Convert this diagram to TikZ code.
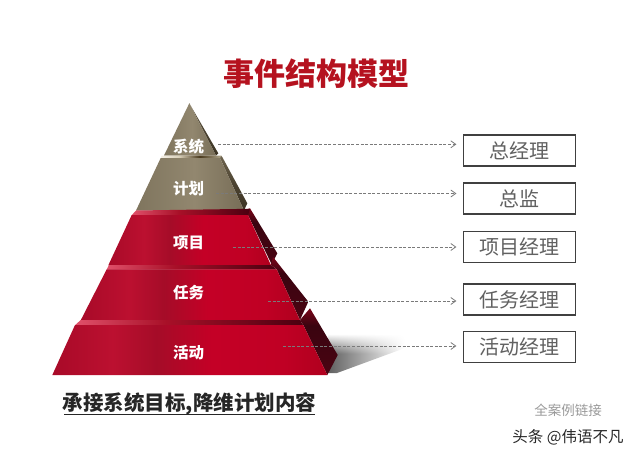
\documentclass[tikz,border=0pt]{standalone}
\usepackage{fontspec}
\newfontfamily\cjk{Noto Sans CJK SC}
\usetikzlibrary{arrows.meta,fadings}
\definecolor{titlered}{HTML}{B5121F}
\definecolor{ra}{HTML}{A80A28}\definecolor{rb}{HTML}{BC1030}\definecolor{rc}{HTML}{A50C28}
\definecolor{rd}{HTML}{C40026}\definecolor{re}{HTML}{C00024}\definecolor{rf}{HTML}{B0001E}
\definecolor{ka}{HTML}{7F755E}\definecolor{kb}{HTML}{92876F}\definecolor{kc}{HTML}{776D57}
\definecolor{sa}{HTML}{E0506A}\definecolor{sb}{HTML}{A81028}\definecolor{sc}{HTML}{4A0010}
\definecolor{ta}{HTML}{F4F0E6}\definecolor{tb}{HTML}{D9CFB8}\definecolor{tc}{HTML}{4A3A1E}\definecolor{td}{HTML}{B0A68C}
\definecolor{fa}{HTML}{7A0418}\definecolor{fb}{HTML}{3A0410}\definecolor{fc}{HTML}{4A0412}
\definecolor{ga}{HTML}{6E644E}\definecolor{gb}{HTML}{4C4331}\definecolor{gc}{HTML}{3C3424}
\definecolor{ha}{HTML}{606060}\definecolor{hb}{HTML}{B0B0B0}\definecolor{hc}{HTML}{FFFFFF}
\pgfdeclarehorizontalshading{redface}{100bp}{
  color(0bp)=(ra); color(25bp)=(ra); color(36bp)=(rb); color(44bp)=(rc);
  color(54bp)=(rd); color(67bp)=(re); color(75bp)=(rf); color(100bp)=(rf)}
\pgfdeclarehorizontalshading{khakishade}{100bp}{
  color(0bp)=(ka); color(25bp)=(ka); color(52bp)=(kb); color(75bp)=(kc); color(100bp)=(kc)}
\pgfdeclarehorizontalshading{redstrip}{100bp}{
  color(0bp)=(sa); color(25bp)=(sa); color(45bp)=(sb); color(75bp)=(sc); color(100bp)=(sc)}
\pgfdeclarehorizontalshading{khakistrip}{100bp}{
  color(0bp)=(ta); color(25bp)=(ta); color(40bp)=(tb); color(57bp)=(tc); color(75bp)=(td); color(100bp)=(td)}
\pgfdeclareverticalshading{redside}{100bp}{
  color(0bp)=(fc); color(25bp)=(fc); color(62bp)=(fb); color(75bp)=(fa); color(100bp)=(fa)}
\pgfdeclareverticalshading{khakiside}{100bp}{
  color(0bp)=(gc); color(25bp)=(gc); color(50bp)=(gb); color(75bp)=(ga); color(100bp)=(ga)}
\pgfdeclarehorizontalshading{floorshadow}{100bp}{
  color(0bp)=(ha); color(25bp)=(ha); color(50bp)=(hb); color(75bp)=(hc); color(100bp)=(hc)}
\tikzfading[name=softtop,top color=transparent!100,bottom color=transparent!0,middle color=transparent!0]
\tikzset{
  redfront/.style={shading=redface},
  khakifront/.style={shading=khakishade},
  redtop/.style={shading=redstrip},
  khakitop/.style={shading=khakistrip},
  redflank/.style={shading=redside},
  khakiflank/.style={shading=khakiside},
  tier/.style={font=\cjk\bfseries\fontsize{15.5}{15.5}\selectfont,text=white,inner sep=0pt},
  rolebox/.style={draw=black!75,line width=1.1pt,fill=white,minimum width=112pt,minimum height=31pt,
    inner sep=0pt,font=\cjk\fontsize{20}{20}\selectfont,text=black!62},
  linkline/.style={draw=black!52,line width=0.8pt,dash pattern=on 3pt off 1.6pt,
    -{Straight Barb[length=5pt,width=7pt,line width=0.8pt]},shorten >=6.5pt}
}
\begin{document}
\begin{tikzpicture}[x=1pt,y=-1pt]
\useasboundingbox (0,0) rectangle (640,460);
% floor shadow
\path[shading=floorshadow,path fading=softtop,fit fading=true] (328,334) -- (405,334) -- (405,348) -- (337,373) -- (328,373) -- cycle;
% apex tier
\path[khakiflank] (189.3,103.3) -- (218.3,153.3) -- (216,155.5) -- cycle;
\path[khakifront] (189.3,103.3) -- (216,155.5) -- (164,155.5) -- cycle;
\path[khakitop] (161.7,155.5) -- (221.7,155.5) -- (220,158.2) -- (160.7,158.2) -- cycle;
% plan tier
\path[khakiflank] (221.7,156) -- (247.3,203.3) -- (244,210.5) -- (220,158) -- cycle;
\path[khakifront] (160.7,158) -- (220,158) -- (244,210.5) -- (136,210.5) -- cycle;
% project tier
\path[redflank] (250,208.3) -- (277.3,253.3) -- (271.7,264.5) -- (248,215) -- (244,210) -- cycle;
\path[redtop] (136,210.5) -- (250,208.8) -- (248,215.2) -- (131.7,215.2) -- cycle;
\path[redfront] (131.7,215) -- (248,215) -- (271,265.3) -- (108.3,265.3) -- cycle;
% task tier
\path[redflank] (273,257) -- (308.3,301.7) -- (300,320) -- (276.7,269.3) -- (271,265) -- cycle;
\path[redtop] (109,265) -- (271,265) -- (276.7,269.5) -- (106.7,269.5) -- cycle;
\path[redfront] (106.7,269.3) -- (276.7,269.3) -- (300,320.3) -- (80.7,320.3) -- cycle;
% activity tier
\path[redflank] (310,308.3) -- (337.7,355) -- (327.3,375) -- (303.3,325) -- (300,320) -- cycle;
\path[redtop] (80.7,320) -- (300,320) -- (303.3,325.2) -- (75,325.2) -- cycle;
\path[redfront] (75,325) -- (303.3,325) -- (327.3,375) -- (52.3,375) -- cycle;
% labels
\node[inner sep=0pt,font=\cjk\bfseries\fontsize{31}{31}\selectfont,text=titlered] (title) at (316.5,74) {事件结构模型};
\node[tier] (t1) at (188.5,146.7) {系统};
\node[tier] (t2) at (188.5,188.3) {计划};
\node[tier] (t3) at (188.5,243.3) {项目};
\node[tier] (t4) at (188.5,292.3) {任务};
\node[tier] (t5) at (188.5,352.3) {活动};
% role boxes
\node[rolebox] (r1) at (519.5,150.5) {总经理};
\node[rolebox] (r2) at (519.5,198.5) {总监};
\node[rolebox] (r3) at (519.5,247) {项目经理};
\node[rolebox] (r4) at (519.5,299.5) {任务经理};
\node[rolebox] (r5) at (519.5,347) {活动经理};
% connectors
\coordinate (s1) at (218,144.3);
\coordinate (s2) at (216,193.5);
\coordinate (s3) at (233,247);
\coordinate (s4) at (268,301);
\coordinate (s5) at (283,346);
\draw[linkline] (s1) -- (s1 -| r1.west);
\draw[linkline] (s2) -- (s2 -| r2.west);
\draw[linkline] (s3) -- (s3 -| r3.west);
\draw[linkline] (s4) -- (s4 -| r4.west);
\draw[linkline] (s5) -- (s5 -| r5.west);
% bottom texts
\node[inner sep=0pt,font=\cjk\bfseries\fontsize{20.5}{20.5}\selectfont,text=black!85] (note) at (189.5,404) {承接系统目标,降维计划内容};
\draw[black!85,line width=1.1pt] (64,414.5) -- (315,414.5);
\node[inner sep=0pt,font=\cjk\fontsize{13.5}{13.5}\selectfont,text=black!40] (link) at (568,410) {全案例链接};
\node[inner sep=0pt,font=\cjk\fontsize{15.5}{15.5}\selectfont,text=black!85] (mark) at (568,437) {头条 @伟语不凡};
\end{tikzpicture}
\end{document}
